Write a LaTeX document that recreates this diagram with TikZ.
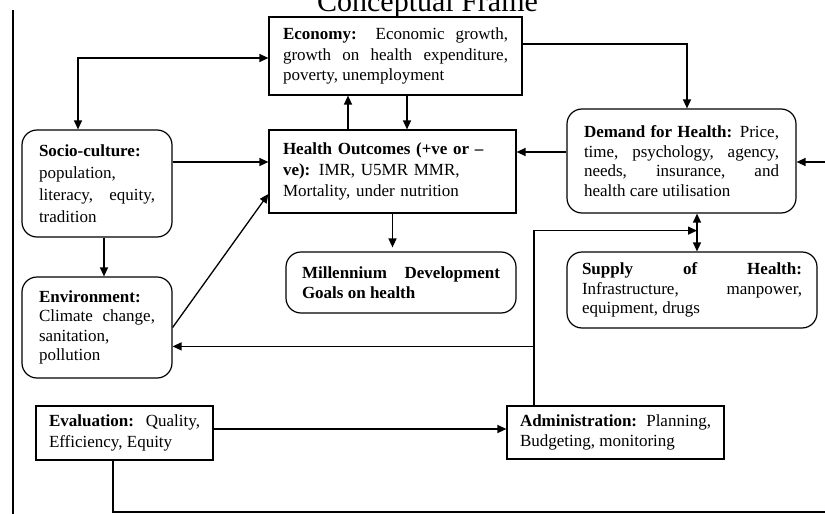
\documentclass[tikz,border=0pt]{standalone}
\usepackage{fontspec}
\setmainfont{Liberation Serif}
\usetikzlibrary{arrows.meta}
\tikzset{
  boxbase/.style={draw, line width=1.2pt, inner ysep=0pt, align=justify,
    font=\fontsize{17}{20.3}\selectfont},
  sqbox/.style={boxbase, rectangle},
  rbox/.style={boxbase, rectangle, rounded corners=15pt},
  lead/.style={font=\fontsize{17}{#1}\selectfont},
  conn/.style={line width=1.3pt},
  arr/.style={conn, -{Triangle[length=9pt,width=8pt]}},
  arrb/.style={conn, {Triangle[length=9pt,width=8pt]}-{Triangle[length=9pt,width=8pt]}},
}
\begin{document}
\begin{tikzpicture}[x=1pt,y=-1pt]
\useasboundingbox (0,0) rectangle (825,514);
\hyphenpenalty=10000 \exhyphenpenalty=10000

\node (title) [anchor=base, font=\fontsize{30}{30}\selectfont] at (427.5,11) {Conceptual Frame};

\node (econ) [sqbox, minimum width=253pt, minimum height=78pt, inner xsep=14pt, text width=225pt] at (395.5,56)
  {\textbf{Economy:} Economic growth,\linebreak growth on health expenditure,\linebreak poverty, unemployment};
\node (health) [sqbox, lead=21, align=left, minimum width=247pt, minimum height=83pt, inner xsep=14pt, text width=219pt] at (392.5,171.5)
  {\textbf{Health Outcomes (+ve or –}\\\textbf{ve):} IMR, U5MR MMR,\\Mortality, under nutrition};
\node (socio) [rbox, lead=22, minimum width=150pt, minimum height=107pt, inner xsep=17pt, text width=116pt] at (97,183.5)
  {\textbf{Socio-culture:}\\population,\\literacy, equity,\linebreak tradition};
\node (env) [rbox, lead=19.4, minimum width=150pt, minimum height=101pt, inner xsep=17pt, text width=116pt] at (97,327.5)
  {\textbf{Environment:}\\Climate change,\linebreak sanitation,\\pollution};
\node (mdg) [rbox, minimum width=230pt, minimum height=61pt, inner xsep=16pt, text width=198pt] at (401,282.5)
  {\textbf{Millennium Development\linebreak Goals on health}};
\node (demand) [rbox, lead=19.7, minimum width=229pt, minimum height=104pt, inner xsep=17pt, text width=195pt] at (681.5,161)
  {\textbf{Demand for Health:} Price,\linebreak time, psychology, agency,\linebreak needs, insurance, and\linebreak health care utilisation};
\node (supply) [rbox, lead=19.7, minimum width=250pt, minimum height=76pt, inner xsep=15pt, text width=220pt] at (692,290)
  {\textbf{Supply of Health:}\linebreak Infrastructure, manpower,\linebreak equipment, drugs};
\node (eval) [sqbox, minimum width=177pt, minimum height=54pt, inner xsep=13pt, text width=151pt] at (124.5,433)
  {\textbf{Evaluation:} Quality,\linebreak Efficiency, Equity};
\node (admin) [sqbox, minimum width=217pt, minimum height=53pt, inner xsep=13pt, text width=191pt] at (615.5,432.5)
  {\textbf{Administration:} Planning,\linebreak Budgeting, monitoring};

% free ends
\coordinate (lt) at (13,10);
\coordinate (lb) at (13,514);
\coordinate (redge) at (826,162);
\coordinate (bedge) at (826,512);
\coordinate (j) at ([xshift=15.5pt,yshift=-17pt]demand.south);
\coordinate (k) at ([xshift=-81.5pt,yshift=59pt]admin.north);

\draw[conn] (lt) -- (lb);

\draw[arrb] ([yshift=-2pt]econ.west) -| ([xshift=-19pt]socio.north);
\draw[arr] ([xshift=-44.5pt]health.north) -- ([xshift=-44.5pt]health.north |- econ.south);
\draw[arr] ([xshift=11.5pt]econ.south) -- ([xshift=11.5pt]econ.south |- health.north);
\draw[arr] ([yshift=21.5pt]socio.east) -- ([yshift=21.5pt]socio.east -| health.west);
\draw[arr] ([xshift=7pt]socio.south) -- ([xshift=7pt]socio.south |- env.north);
\draw[arr] (env.east) -- ([yshift=-22.5pt]health.west);
\draw[arr, shorten >=4pt] (health.south) -- (health.south |- mdg.north);
\draw[arr] ([yshift=9pt]demand.west) -- ([yshift=9pt]demand.west -| health.east);
\draw[arr] ([yshift=12pt]econ.east) -| ([xshift=5.5pt]demand.north);
\draw[arr] (redge) -- (redge -| demand.east);
\draw[arrb] ([xshift=15.5pt]demand.south) -- ([xshift=15.5pt]demand.south |- supply.north);
\draw[arr] ([xshift=-81.5pt]admin.north) |- (j);
\draw[arr] (k) -- (k -| env.east);
\draw[arr] ([yshift=4pt]eval.east) -- ([yshift=4pt]eval.east -| admin.west);
\draw[conn] ([xshift=-11.5pt]eval.south) |- (bedge);
\end{tikzpicture}
\end{document}
